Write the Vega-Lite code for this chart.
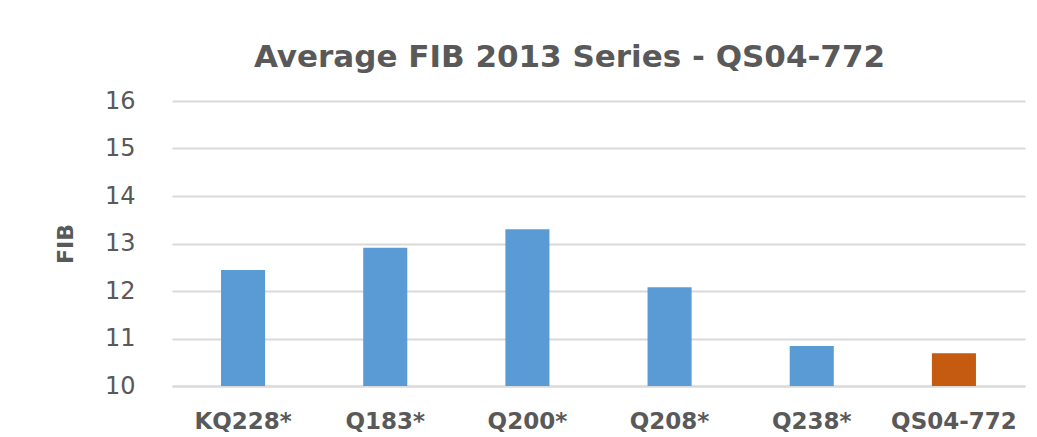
{
  "$schema": "https://vega.github.io/schema/vega-lite/v6.json",
  "autosize": {"type": "none"},
  "width": 853,
  "height": 285,
  "padding": {"left": 172, "top": 101, "right": 12, "bottom": 51},
  "background": "white",
  "title": {
    "text": "Average FIB 2013 Series - QS04-772",
    "font": "DejaVu Sans",
    "fontSize": 31,
    "fontWeight": "bold",
    "color": "#595959",
    "anchor": "middle",
    "baseline": "alphabetic",
    "dx": -29,
    "offset": -9
  },
  "data": {
    "values": [
      {"site": "KQ228*", "fib": 12.44, "group": "ref"},
      {"site": "Q183*", "fib": 12.91, "group": "ref"},
      {"site": "Q200*", "fib": 13.30, "group": "ref"},
      {"site": "Q208*", "fib": 12.08, "group": "ref"},
      {"site": "Q238*", "fib": 10.84, "group": "ref"},
      {"site": "QS04-772", "fib": 10.69, "group": "target"}
    ]
  },
  "mark": {"type": "bar", "clip": true},
  "encoding": {
    "x": {
      "field": "site",
      "type": "nominal",
      "sort": null,
      "scale": {"paddingInner": 0.69, "paddingOuter": 0.345},
      "axis": {
        "title": null,
        "labelAngle": 0,
        "labelFont": "DejaVu Sans",
        "labelFontSize": 23,
        "labelFontWeight": "bold",
        "labelColor": "#595959",
        "labelPadding": 24,
        "ticks": false,
        "domainColor": "#d9d9d9",
        "domainWidth": 2
      }
    },
    "y": {
      "field": "fib",
      "type": "quantitative",
      "scale": {"domain": [10, 16], "zero": false},
      "axis": {
        "title": "FIB",
        "titleFont": "DejaVu Sans",
        "titleFontSize": 22,
        "titleFontWeight": "bold",
        "titleColor": "#595959",
        "titlePadding": 27,
        "values": [10, 11, 12, 13, 14, 15, 16],
        "labelFont": "DejaVu Sans",
        "labelFontSize": 24,
        "labelColor": "#595959",
        "labelPadding": 37,
        "ticks": false,
        "domain": false,
        "gridColor": "#d9d9d9",
        "gridWidth": 2
      }
    },
    "color": {
      "field": "group",
      "type": "nominal",
      "scale": {"domain": ["ref", "target"], "range": ["#5b9bd5", "#c55a11"]},
      "legend": null
    }
  },
  "config": {"view": {"stroke": null}}
}
